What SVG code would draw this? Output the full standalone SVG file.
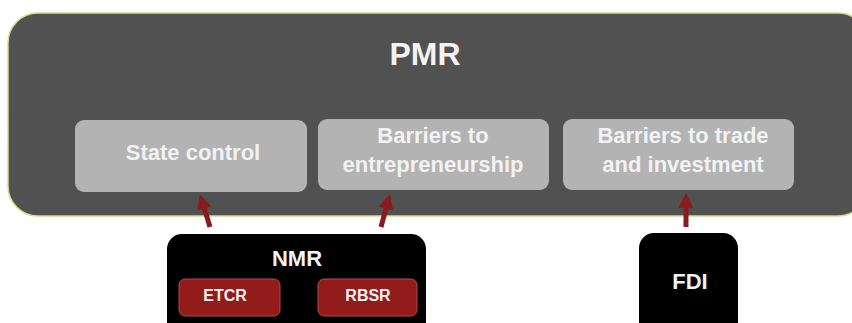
<svg xmlns="http://www.w3.org/2000/svg" width="852" height="323" viewBox="0 0 852 323">
<defs>
<style>
.t{font-family:"Liberation Sans",Arial,sans-serif;font-weight:bold;fill:#f2f2f2;text-anchor:middle}
.box{fill:#b3b3b3}
.red{fill:#921c1c;stroke:#b5474a;stroke-width:1}
.blk{fill:#000}
.arr{stroke:#8b1a1f;stroke-width:5;fill:none;marker-end:url(#ah)}
</style>
<marker id="ah" markerWidth="3" markerHeight="3" refX="1.6" refY="1.5" orient="auto" markerUnits="strokeWidth">
<path d="M0,0 L3,1.5 L0,3 Z" fill="#8b1a1f"/>
</marker>
</defs>
<rect width="852" height="323" fill="#fff"/>
<g id="pmr">
<rect x="8" y="13" width="860" height="203" rx="30" fill="#505150" stroke="#d9d98a" stroke-width="1.5"/>
<text class="t" x="425" y="65" font-size="32">PMR</text>
</g>
<g id="state-control">
<rect class="box" x="75" y="120" width="232" height="72" rx="9"/>
<text class="t" x="193" y="160" font-size="22">State control</text>
</g>
<g id="barriers-entrepreneurship">
<rect class="box" x="318" y="119" width="231" height="71" rx="9"/>
<text class="t" x="433" y="143" font-size="22">Barriers to</text>
<text class="t" x="433" y="172" font-size="22">entrepreneurship</text>
</g>
<g id="barriers-trade">
<rect class="box" x="563" y="119" width="231" height="71" rx="9"/>
<text class="t" x="683" y="143" font-size="22">Barriers to trade</text>
<text class="t" x="683" y="172" font-size="22">and investment</text>
</g>
<g id="nmr">
<rect class="blk" x="167" y="234" width="259" height="110" rx="15"/>
<text class="t" x="297" y="266" font-size="22">NMR</text>
<g id="etcr">
<rect class="red" x="179" y="279" width="101" height="37" rx="6"/>
<text class="t" x="225" y="301" font-size="16">ETCR</text>
</g>
<g id="rbsr">
<rect class="red" x="318" y="279" width="99" height="37" rx="6"/>
<text class="t" x="368" y="301" font-size="16">RBSR</text>
</g>
</g>
<g id="fdi">
<rect class="blk" x="639" y="233" width="99" height="110" rx="15"/>
<text class="t" x="690" y="289" font-size="22">FDI</text>
</g>
<g id="connectors">
<line class="arr" x1="210" y1="227" x2="202" y2="201"/>
<line class="arr" x1="381" y1="227" x2="388" y2="201"/>
<line class="arr" x1="686" y1="227" x2="686" y2="200"/>
</g>
</svg>
